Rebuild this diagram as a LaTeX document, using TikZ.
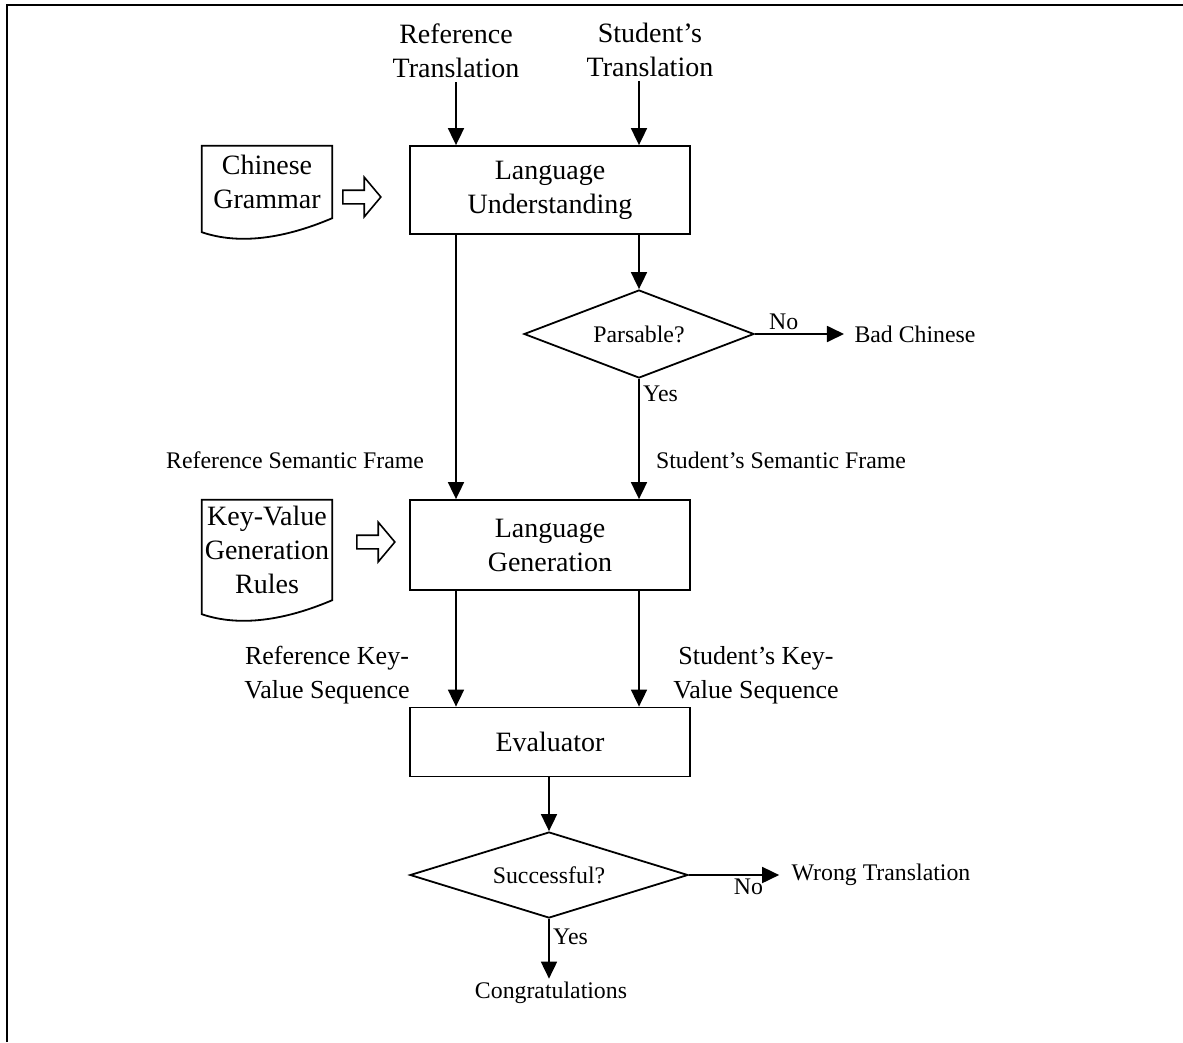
\documentclass[tikz,border=0pt]{standalone}
\usepackage{fontspec}
\setmainfont{Liberation Serif}
\usepackage{tikz}
\usetikzlibrary{arrows.meta}
\usetikzlibrary{shapes.geometric}
\usetikzlibrary{shapes.arrows}

\newcommand{\grosstext}{\fontsize{28}{34}\selectfont}
\newcommand{\mitteltext}{\fontsize{26}{34}\selectfont}
\newcommand{\kleintext}{\fontsize{23.8}{28}\selectfont}

% Dokument-Symbol mit welligem Rand unten
\newcommand{\dokumentrand}[1]{%
  \draw[linie] (#1.north west) -- (#1.north east) -- (#1.south east)
    .. controls +(-47,20) and +(38,13) .. ([yshift=-14pt]#1.south west) -- cycle;}

\begin{document}
\begin{tikzpicture}[x=1pt, y=-1pt,
    linie/.style={line width=1.8pt},
    pfeil/.style={line width=1.8pt, -{Triangle[length=17pt,width=16pt]}},
    kasten/.style={draw, line width=1.8pt, minimum width=280pt, inner sep=0pt, align=center, font=\grosstext},
    raute/.style={draw, diamond, line width=1.8pt, inner sep=0pt, font=\kleintext},
    dokument/.style={minimum width=130pt, inner sep=0pt, align=center, font=\grosstext},
    hohlpfeil/.style={single arrow, draw, line width=1.6pt, inner sep=6pt, minimum height=38pt,
                      single arrow head extend=13pt, single arrow tip angle=100},
    beschriftung/.style={align=center, font=\kleintext}]
    \useasboundingbox (0,0) rectangle (1183,1042);

    % Rahmen
    \draw[line width=2pt] (7,1042) -- (7,5) -- (1183,5);

    % Eingaben
    \node[align=center, font=\grosstext, inner sep=4pt] (reftxt) at (456,51) {Reference\\Translation};
    \node[align=center, font=\grosstext, inner sep=4pt] (sttxt) at (650,50) {Student's\\Translation};

    % Sprachverstehen
    \node[kasten, minimum height=88pt] (lu) at (550,190) {Language\\Understanding};
    \node[dokument, minimum height=72pt] (gram) at (267,182) {Chinese\\Grammar};
    \dokumentrand{gram}
    \node[hohlpfeil] (gpfeil) at (359,197) {};

    \node[raute, aspect=2.6, minimum width=230pt, minimum height=88pt] (parse) at (639,334) {Parsable?};
    \node[beschriftung] (badch) at (915,334) {Bad Chinese};

    \draw[pfeil] (reftxt.south) -- (reftxt.south |- lu.north);
    \draw[pfeil] (sttxt.south -| parse.north) -- (lu.north -| parse.north);
    \draw[pfeil] (lu.south -| parse.north) -- (parse.north);
    \draw[pfeil, shorten >=7pt] (parse.east) -- node[pos=0.3, above, font=\kleintext] {No} (badch.west);

    % Sprachgenerierung
    \node[kasten, minimum height=90pt] (lg) at (550,545) {Language\\Generation};
    \node[dokument, minimum height=100pt] (regeln) at (267,550) {Key-Value\\Generation\\Rules};
    \dokumentrand{regeln}
    \node[hohlpfeil] (rpfeil) at (373,542) {};

    \node[beschriftung] (refsem) at (295,460) {Reference Semantic Frame};
    \node[beschriftung] (stsem) at (781,460) {Student's Semantic Frame};

    \draw[pfeil] (lu.south -| reftxt.south) -- (lg.north -| reftxt.south);
    \draw[pfeil] (parse.south) -- node[pos=0.12, right, font=\kleintext] {Yes} (lg.north -| parse.south);

    % Bewertung
    \node[kasten, minimum height=69pt] (eval) at (550,742) {Evaluator};
    \node[align=center, font=\mitteltext] (refkv) at (327,675) {Reference Key-\\Value Sequence};
    \node[align=center, font=\mitteltext] (stkv) at (756,675) {Student's Key-\\Value Sequence};

    \draw[pfeil] (lg.south -| reftxt.south) -- (eval.north -| reftxt.south);
    \draw[pfeil] (lg.south -| parse.south) -- (eval.north -| parse.south);

    \node[raute, aspect=3.2, minimum width=278pt, minimum height=86pt] (succ) at (549,875) {Successful?};
    \node[beschriftung] (wrong) at (881,875) {Wrong Translation};
    \node[beschriftung] (congr) at (551,993) {Congratulations};

    \draw[pfeil] (eval.south -| succ.north) -- (succ.north);
    \draw[pfeil, shorten >=9pt] (succ.east) -- node[pos=0.6, below, font=\kleintext] {No} (wrong.west);
    \draw[pfeil] (succ.south) -- node[pos=0.3, right, font=\kleintext] {Yes} (congr.north -| succ.south);
\end{tikzpicture}
\end{document}
